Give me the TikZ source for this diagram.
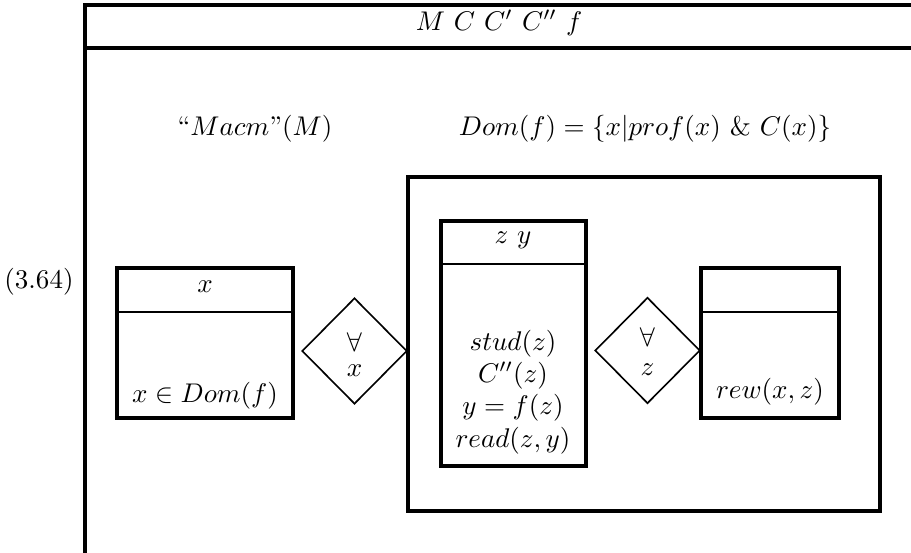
\documentclass[tikz,border=0pt]{standalone}
\usetikzlibrary{shapes.geometric}
\begin{document}
\begin{tikzpicture}[x=0.37pt,y=-0.37pt,
  heavy/.style={line width=1.25pt},
  divider/.style={line width=0.9pt},
  quant/.style={draw,diamond,line width=0.6pt,minimum width=105*0.37pt,minimum height=106*0.37pt,inner sep=0pt},
  lbl/.style={inner sep=0pt}]
\useasboundingbox (0,0) rectangle (911,553);
% outer frame
\draw[heavy] (85,553) -- (85,5) -- (911,5);
\draw[heavy] (85,48) -- (911,48);
\node[lbl] (title) at (499,23) {$M\ C\ C'\ C''\ f$};
\node[lbl] (eqno) at (39,282) {$(3.64)$};
\node[lbl] (macm) at (255,129) {``$Macm$''$(M)$};
\node[lbl] (dom) at (645,129) {$Dom(f)=\{x|prof(x)\ \&\ C(x)\}$};
% box x
\draw[heavy] (117,268) rectangle (293,418);
\draw[divider] (117,312) -- (293,312);
\node[lbl] (hx) at (205,287) {$x$};
\node[lbl] (bx) at (205,396) {$x\in Dom(f)$};
% diamond 1
\node[quant] (q1) at (354.5,351) {};
\node[lbl] (q1a) at (354.5,342) {$\forall$};
\node[lbl] (q1b) at (354.5,371) {$x$};
% inner box
\draw[heavy] (408,177) rectangle (880,511);
% box z y
\draw[heavy] (441,221) rectangle (586,466);
\draw[divider] (441,264) -- (586,264);
\node[lbl] (hzy) at (513,240) {$z\ y$};
\node[align=center,inner sep=0pt] (bzy) at (513,392) {$stud(z)$\\ $C''(z)$\\ $y=f(z)$\\ $read(z,y)$};
% diamond 2
\node[quant] (q2) at (647.5,350.5) {};
\node[lbl] (q2a) at (647.5,337) {$\forall$};
\node[lbl] (q2b) at (647.5,370) {$z$};
% box rew
\draw[heavy] (701,268) rectangle (839,418);
\draw[divider] (701,312) -- (839,312);
\node[lbl] (brew) at (770,392) {$rew(x,z)$};
\end{tikzpicture}
\end{document}
